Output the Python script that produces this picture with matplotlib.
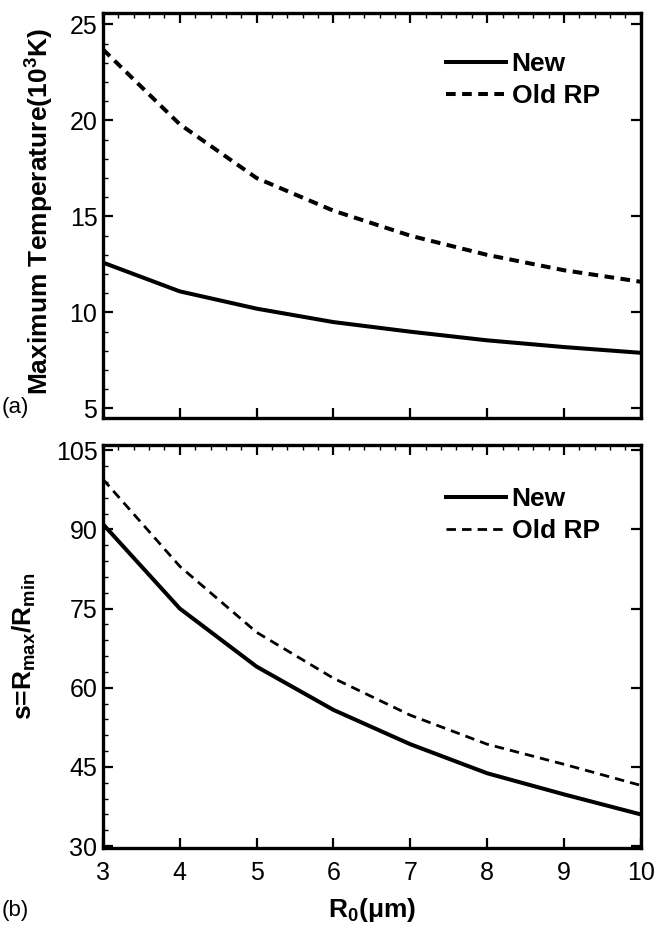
import matplotlib.pyplot as plt
from matplotlib.ticker import MultipleLocator

plt.rcParams['font.family'] = ['Liberation Sans', 'DejaVu Sans']
plt.rcParams['mathtext.fontset'] = 'custom'
plt.rcParams['mathtext.rm'] = 'Liberation Sans'
plt.rcParams['mathtext.bf'] = 'Liberation Sans:bold'

# data
r0 = [3, 4, 5, 6, 7, 8, 9, 10]
temp_new = [12.6, 11.1, 10.2, 9.5, 9.0, 8.55, 8.2, 7.9]
temp_old = [23.7, 19.8, 17.0, 15.3, 14.0, 13.0, 12.2, 11.6]
s_new = [91.0, 75.0, 64.0, 55.8, 49.3, 43.8, 39.8, 36.0]
s_old = [99.5, 83.0, 70.5, 61.8, 54.8, 49.3, 45.5, 41.5]

fig = plt.figure(figsize=(6.6, 9.25), dpi=100)
ax1 = fig.add_axes([0.156, 0.548, 0.815, 0.438])
ax2 = fig.add_axes([0.156, 0.083, 0.815, 0.436])

lw = 2.9
ax1.plot(r0, temp_new, 'k-', lw=lw, label='New')
ax1.plot(r0, temp_old, 'k--', lw=lw, dashes=(2.4, 1.6), label='Old RP')
ax2.plot(r0, s_new, 'k-', lw=lw, label='New')
ax2.plot(r0, s_old, 'k--', lw=2.0, dashes=(3.4, 2.2), label='Old RP')

ax1.set_ylim(4.5, 25.6)
ax1.yaxis.set_major_locator(MultipleLocator(5))
ax1.yaxis.set_minor_locator(MultipleLocator(1))
ax2.set_ylim(29.6, 106)
ax2.yaxis.set_major_locator(MultipleLocator(15))
ax2.yaxis.set_minor_locator(MultipleLocator(3))

for ax, ytop in ((ax1, 0.904), (ax2, 0.896)):
    ax.set_xlim(3, 10)
    ax.xaxis.set_major_locator(MultipleLocator(1))
    ax.xaxis.set_minor_locator(MultipleLocator(0.2))
    for sp in ax.spines.values():
        sp.set_linewidth(2.4)
    ax.tick_params(which='major', direction='in', length=7, width=1.6,
                   top=True, right=True, labelsize=18, pad=4)
    ax.tick_params(which='minor', direction='in', length=3.5, width=1.0,
                   top=True, bottom=False, right=False, left=True)
    ax.legend(loc='upper left', frameon=False, handlelength=2.3,
              handletextpad=0.2, borderaxespad=0, borderpad=0,
              labelspacing=0.3, prop={'weight': 'bold', 'size': 19},
              bbox_to_anchor=(0.637, ytop))

ax1.tick_params(labelbottom=False)
ax1.tick_params(axis='x', pad=8)
ax2.tick_params(axis='x', pad=9)
ax1.set_ylabel(r'Maximum Temperature(10$^{\mathbf{3}}$K)', fontsize=19,
               fontweight='bold')
ax2.set_ylabel(r's=R$_{\mathbf{max}}$/R$_{\mathbf{min}}$', fontsize=19,
               fontweight='bold')
ax1.yaxis.set_label_coords(-0.089, 0.51)
ax2.yaxis.set_label_coords(-0.121, 0.5)
ax2.set_xlabel(r'R$_{\mathbf{0}}$($\mathbf{\mu}$m)', fontsize=19,
               fontweight='bold', labelpad=8)

fig.text(0.003, 0.553, '(a)', fontsize=16)
fig.text(0.003, 0.010, '(b)', fontsize=16)

fig.savefig('out.png', dpi=100)
